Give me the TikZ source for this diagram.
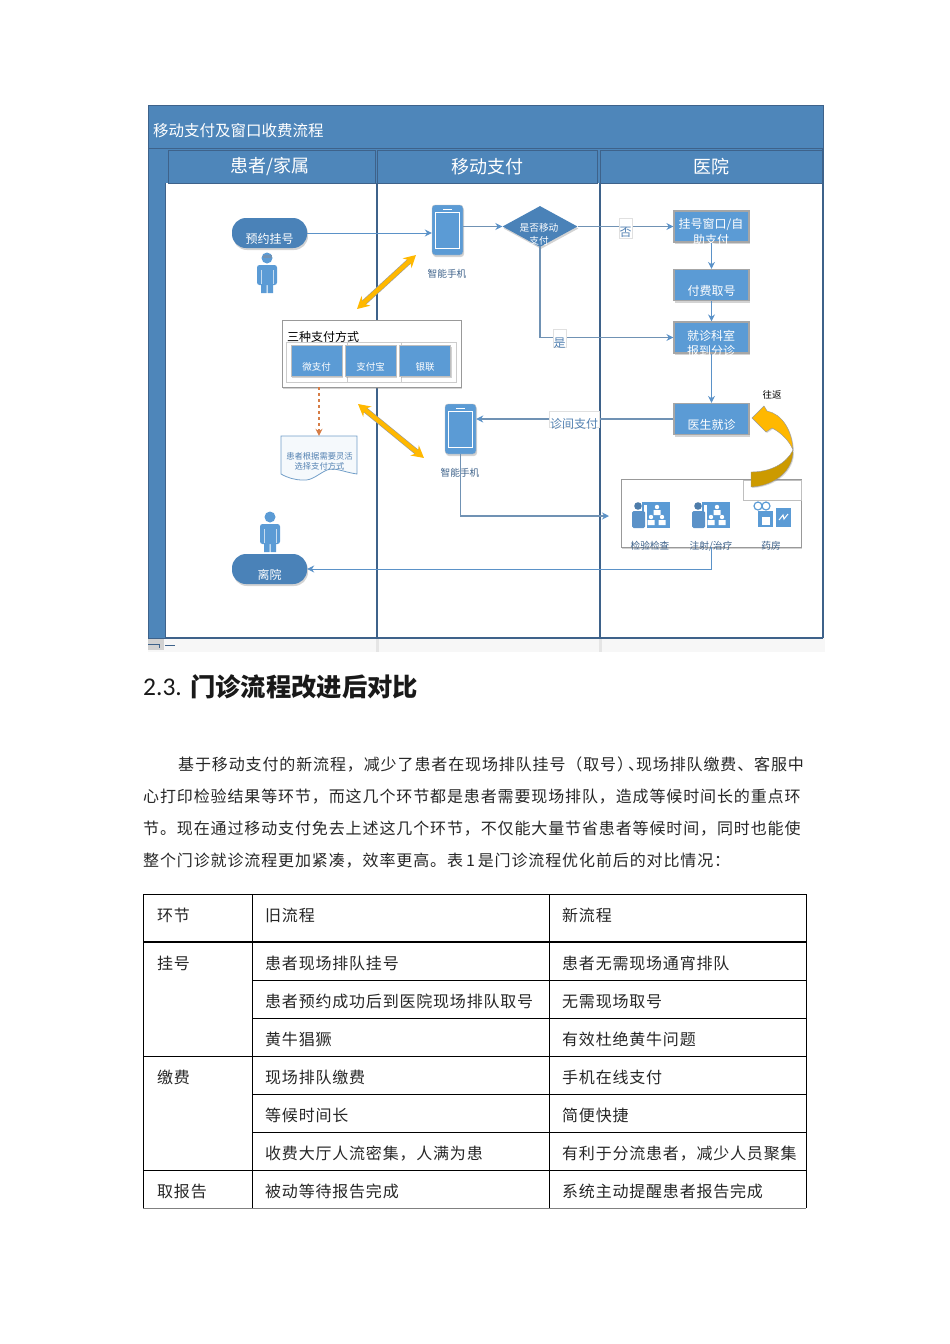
\documentclass[tikz,border=0pt]{standalone}
\usepackage{fontspec}
\setmainfont{Noto Sans CJK SC}
\newfontfamily\bodyfont[LetterSpace=5]{Noto Sans CJK SC}
\newfontfamily\parafont[LetterSpace=5.5]{Noto Sans CJK SC}
\newfontfamily\latinfont{Carlito}
\usepackage{xcolor}
\usetikzlibrary{arrows.meta,positioning,shapes.geometric,shadows}
\definecolor{bandblue}{RGB}{78,134,186}
\definecolor{bandedge}{RGB}{62,98,138}
\definecolor{boxblue}{RGB}{91,155,213}
\definecolor{pillblue}{RGB}{74,130,184}
\definecolor{linkblue}{RGB}{112,146,180}
\definecolor{tipblue}{RGB}{91,146,200}
\definecolor{labelblue}{RGB}{84,130,178}
\definecolor{goldfill}{RGB}{255,184,0}
\definecolor{golddark}{RGB}{204,154,0}
\definecolor{dashorange}{RGB}{214,125,70}
\newcommand{\fsz}[1]{\fontsize{#1}{#1}\selectfont}
\newcommand{\lowtxt}[1]{\raisebox{-10pt}[0pt][0pt]{#1}}
\tikzset{
  softshadow/.style={drop shadow={opacity=.35,shadow xshift=1pt,shadow yshift=-2pt}},
  pillbox/.style={rounded corners=14pt,fill=pillblue,minimum width=75pt,minimum height=30pt,inner sep=0pt,text=white,softshadow,font=\fsz{12}},
  stepbox/.style={draw=black!35,line width=1.2pt,fill=boxblue,minimum width=75pt,minimum height=31pt,inner sep=0pt,text=white,softshadow,align=center,font=\fsz{12}},
  paybox/.style={draw=black!25,fill=boxblue,minimum width=51pt,minimum height=31pt,inner sep=0pt,text=white,softshadow,font=\fsz{9.5}},
  phonebox/.style={rounded corners=3pt,draw=black!25,fill=boxblue,minimum width=31pt,minimum height=50pt,inner sep=0pt,softshadow},
  phonelabel/.style={text=bandedge,font=\fsz{9.7},inner sep=0pt},
  headtext/.style={text=white,font=\fsz{18},inner sep=0pt},
  lanebox/.style={draw=bandedge,fill=bandblue,minimum height=33pt,inner sep=0pt},
  linktag/.style={draw=black!12,fill=white,inner sep=0pt,text=labelblue,font=\fsz{12}},
  link/.style={draw=linkblue,line width=1.2pt,-{Stealth[length=7pt,width=7pt,color=tipblue]}},
  downlink/.style={draw=tipblue,line width=1pt,-{Stealth[length=7pt,width=7pt]}},
  goldlink/.style={draw=goldfill,line width=4.4pt,{Stealth[length=12pt,width=13pt]}-{Stealth[length=12pt,width=13pt]}},
  goldrim/.style={draw=black!40,line width=5.6pt,shorten >=8pt,shorten <=8pt},
  roomlabel/.style={text=bandedge,inner sep=0pt,font=\fsz{9.7}},
  bodyline/.style={anchor=west,inner sep=0pt,text=black!85,font=\parafont\fsz{16}},
  cellbox/.style={anchor=west,inner sep=0pt,text=black!85,font=\bodyfont\fsz{16}},
  personicon/.pic={
    \fill[boxblue] (0,-15) circle (5.5);
    \fill[boxblue,rounded corners=2.5pt] (-10,-8) rectangle (10,12);
    \fill[boxblue] (-6,10) rectangle (-.5,20) (.5,10) rectangle (6,20);
    \draw[boxblue!35,line width=.5pt] (-6,-3) -- (-6,11) (6,-3) -- (6,11);
  },
  charticon/.pic={
    \fill[boxblue] (10,0) rectangle (38,26);
    \fill[white] (12,3) rectangle (15,26);
    \fill[tipblue!85!black] (6,4) circle (3.8);
    \fill[tipblue,rounded corners=1.5pt] (0,9) rectangle (13,26);
    \fill[white] (25,5) circle (2.2) (19,15) circle (2.2) (30,15) circle (2.2);
    \fill[white] (21.5,8) rectangle (28.5,13) (15.5,18) rectangle (22.5,23) (26.5,18) rectangle (33.5,23);
  },
}
\begin{document}
\begin{tikzpicture}[x=1pt,y=-1pt]
  \useasboundingbox (0,0) rectangle (950,1344);

  % Frame of the flow chart
  \fill[black!3] (148,638) rectangle (825,652);
  \fill[black!18] (148,638) rectangle (164,650);
  \fill[black!10] (376,638) rectangle (379,652);
  \fill[black!10] (599,638) rectangle (602,652);
  \draw[bandedge] (148,644) -- (159,644) -- (159,648) (165,645) -- (175,645);
  \fill[bandblue] (148,105) rectangle (823,149);
  \draw[bandedge] (148,105) rectangle (823,148);
  \fill[bandblue] (148,148) rectangle (165,638);
  \draw[bandedge] (148,148) rectangle (165,638);
  \node[anchor=west,text=white,inner sep=0pt,font=\fsz{15.5}] (charttitle) at (153,130.5) {移动支付及窗口收费流程};

  % Lanes
  \fill[bandblue] (165,149) rectangle (823,183);
  \node[lanebox,minimum width=207pt] (lanea) at (271.5,166.5) {};
  \node[lanebox,minimum width=220pt] (laneb) at (487,166.5) {};
  \node[lanebox,minimum width=223pt] (lanec) at (711.5,166.5) {};
  \draw[bandedge,line width=1.6pt] (148,148.5) -- (823,148.5);
  \node[headtext] at (270,166.5) (lanetexta) {患者/家属};
  \node[headtext] at (487,166.5) (lanetextb) {移动支付};
  \node[headtext] at (711,166.5) (lanetextc) {医院};
  \draw[bandedge,line width=1.6pt] (377,183) -- (377,638);
  \draw[bandedge,line width=1.6pt] (600,183) -- (600,638);
  \draw[bandedge,line width=1.6pt] (823,148) -- (823,638);
  \draw[bandedge,line width=1.2pt] (165,638) -- (823,638);

  % Patient lane
  \node[pillbox] (booking) at (269.5,233) {\lowtxt{预约挂号}};
  \pic at (267,273) {personicon};
  \fill[linkblue] (262.5,254.5) rectangle (271.5,257.5);
  \node[draw=black!40,fill=white,minimum width=179pt,minimum height=67pt,inner sep=0pt,softshadow] (payways) at (371.5,353.5) {};
  \node[anchor=west,inner sep=0pt,font=\fsz{12}] (paytitle) at (287,337) {三种支付方式};
  \draw[black!20] (286,342) rectangle (456,382) (347,342) -- (347,382) (401,342) -- (401,382);
  \node[paybox] (wechat) at (316.5,360.5) {\lowtxt{微支付}};
  \node[paybox] (alipay) at (370.5,360.5) {\lowtxt{支付宝}};
  \node[paybox] (unionpay) at (425,360.5) {\lowtxt{银联}};
  \node[minimum width=76pt,minimum height=40pt,inner sep=0pt] (flexdoc) at (319,456) {};
  \draw[bandblue!80,line width=.8pt,fill=boxblue!6] (281,436) -- (357,436) -- (357,474) .. controls (343,472) and (335,467) .. (327,470) .. controls (318,474) and (312,481) .. (303,480) .. controls (295,480) and (288,478) .. (281,474) -- cycle;
  \node[text=labelblue,align=center,inner sep=0pt,font=\fsz{8.3}] (flexdoctext) at (319.5,461) {患者根据需要灵活\\[2pt]选择支付方式};
  \draw[dashorange,dashed,line width=1.2pt,-{Stealth[length=7pt,width=7pt]}] (319,387) -- (flexdoc.north);
  \pic at (270,532) {personicon};
  \node[pillbox] (discharge) at (269.5,569) {\lowtxt{离院}};

  % Payment lane
  \node[phonebox] (phonea) at (447.5,230) {};
  \draw[white] (435.5,212) rectangle (459.5,248);
  \draw[white] (443,209) -- (452,209);
  \node[phonelabel] (phonealabel) at (447,274) {智能手机};
  \node[phonebox] (phoneb) at (460.5,429) {};
  \draw[white] (448.5,411) rectangle (472.5,447);
  \draw[white] (456,408) -- (465,408);
  \node[phonelabel] (phoneblabel) at (460,473) {智能手机};
  \node[diamond,fill=pillblue,minimum width=75pt,minimum height=41pt,inner sep=0pt,aspect=1.83,softshadow] (ifmobile) at (540,226.5) {};
  \node[text=white,inner sep=0pt,font=\fsz{9.7}] (ifmobiletexta) at (539,228) {是否移动};
  \node[text=white,inner sep=0pt,font=\fsz{9.7}] (ifmobiletextb) at (539,241) {支付};

  % Hospital lane
  \node[stepbox] (window) at (711.5,226.5) {};
  \node[text=white,align=center,inner sep=0pt,font=\fsz{12}] (windowtext) at (711,232) {挂号窗口/自\\[3pt]助支付};
  \node[stepbox] (payticket) at (711.5,285) {\lowtxt{付费取号}};
  \node[stepbox] (clinic) at (711.5,337.5) {};
  \node[text=white,align=center,inner sep=0pt,font=\fsz{12}] (clinictext) at (711,343.5) {就诊科室\\[3pt]报到分诊};
  \node[stepbox] (doctor) at (711.5,419) {\lowtxt{医生就诊}};
  \node[inner sep=0pt,font=\fsz{9.5}] (roundtrip) at (772,395) {往返};

  % Rooms
  \node[draw=black!40,fill=white,minimum width=180pt,minimum height=68pt,inner sep=0pt,softshadow] (rooms) at (711,513) {};
  \draw[black!25,fill=white] (743,480) rectangle (801,500);
  \pic at (632,502) {charticon};
  \pic at (692,502) {charticon};
  \fill[boxblue] (758,511) rectangle (773,527);
  \fill[boxblue] (776,508) rectangle (791,527);
  \draw[boxblue,line width=1.2pt] (758,506) circle (4) (766,506) circle (4);
  \fill[white] (762,517) rectangle (770,525);
  \draw[white,line width=1pt] (779,520) -- (783,515) -- (784,519) -- (788,514);
  \node[roomlabel] (labroom) at (650,546) {检验检查};
  \node[roomlabel] (cureroom) at (711,546) {注射/治疗};
  \node[roomlabel] (drugroom) at (771,546) {药房};

  % Gold arrows
  \coordinate (goldaa) at (416,255);
  \coordinate (goldab) at (357,309);
  \coordinate (goldba) at (358,404);
  \coordinate (goldbb) at (424,458);
  \draw[goldrim] (goldaa) -- (goldab);
  \draw[goldrim] (goldba) -- (goldbb);
  \draw[goldlink] (goldaa) -- (goldab);
  \draw[goldlink] (goldba) -- (goldbb);
  \fill[golddark,draw=black!40,line width=.4pt,drop shadow={opacity=.3,shadow xshift=1pt,shadow yshift=-1pt}] (793,450) .. controls (794,470) and (775,486) .. (751,487) -- (751,472) .. controls (770,472) and (786,464) .. (793,450) -- cycle;
  \fill[goldfill,draw=black!40,line width=.4pt,drop shadow={opacity=.3,shadow xshift=1pt,shadow yshift=-1pt}] (752,418) -- (764,406) -- (767,411) .. controls (782,414) and (792,430) .. (793,450) .. controls (789,440) and (780,432) .. (772,428) -- (766,432) -- cycle;

  % Connections
  \draw[downlink] (booking.east) -- (booking.east -| phonea.west);
  \draw[link] (phonea.east |- ifmobile.west) -- (ifmobile.west);
  \draw[link] (ifmobile.east) -- (ifmobile.east -| window.west);
  \draw[link] (ifmobile.south) |- (clinic.west);
  \draw[downlink] (window.south) -- (payticket.north);
  \draw[downlink] (payticket.south) -- (clinic.north);
  \draw[downlink] (clinic.south) -- (doctor.north);
  \draw[link] (doctor.west) -- (doctor.west -| phoneb.east);
  \coordinate (roomsin) at (609,516);
  \draw[link] (phoneb.south) |- (roomsin);
  \draw[downlink] (rooms.south -| cureroom.south) |- (discharge.east);

  \node[linktag,minimum width=13pt,minimum height=20pt] (notag) at (625.5,228) {\raisebox{-8pt}[0pt][0pt]{否}};
  \node[linktag,minimum width=13pt,minimum height=18pt] (yestag) at (559.5,338) {\raisebox{-9pt}[0pt][0pt]{是}};
  \node[linktag,minimum width=50pt,minimum height=16pt] (roomtag) at (574,419) {\raisebox{-9pt}[0pt][0pt]{诊间支付}};

  % Section heading
  \node[anchor=west,inner sep=0pt,text=black!90,font=\latinfont\fsz{25.5}] (secnum) at (143,687) {2.3.};
  \node[anchor=west,inner sep=0pt,text=black!90,font=\bfseries\fsz{25.3}] (sectitle) at (190,687) {门诊流程改进后对比};

  % Paragraph
  \node[bodyline] (parta) at (178,764.6) {基于移动支付的新流程，减少了患者在现场排队挂号（取号）\kern-5pt、\kern-8pt 现场排队缴费、客服中};
  \node[bodyline] (partb) at (143,797) {心打印检验结果等环节，而这几个环节都是患者需要现场排队，造成等候时间长的重点环};
  \node[bodyline] (partc) at (143,829) {节。现在通过移动支付免去上述这几个环节，不仅能大量节省患者等候时间，同时也能使};
  \node[bodyline] (partd) at (143,861) {整个门诊就诊流程更加紧凑，效率更高。表 \kern-1.5pt 1 \kern-1.5pt 是门诊流程优化前后的对比情况：};

  % Table
  \draw[black,line width=.8pt] (143,894) -- (806,894);
  \draw[black,line width=1.4pt] (143,942) -- (806,942);
  \draw[black,line width=.7pt] (252,980) -- (806,980);
  \draw[black,line width=.7pt] (252,1018) -- (806,1018);
  \draw[black,line width=.7pt] (143,1056) -- (806,1056);
  \draw[black,line width=.7pt] (252,1094.5) -- (806,1094.5);
  \draw[black,line width=.7pt] (252,1132.5) -- (806,1132.5);
  \draw[black,line width=.7pt] (143,1170.5) -- (806,1170.5);
  \draw[black!50,line width=.7pt] (143,1208.5) -- (806,1208.5);
  \draw[black,line width=.7pt] (143,894) -- (143,1208);
  \draw[black,line width=.7pt] (252,894) -- (252,1208);
  \draw[black,line width=.7pt] (549,894) -- (549,1208);
  \draw[black,line width=.7pt] (806,894) -- (806,1208);

  \node[cellbox] (stephead) at (157,915) {环节};
  \node[cellbox] (oldhead) at (265,915) {旧流程};
  \node[cellbox] (newhead) at (562,915) {新流程};
  \node[cellbox] (stepa) at (157,963) {挂号};
  \node[cellbox] (stepb) at (157,1077) {缴费};
  \node[cellbox] (stepc) at (157,1191) {取报告};
  \node[cellbox] (olda) at (265,963) {患者现场排队挂号};
  \node[cellbox] (oldb) at (265,1001.5) {患者预约成功后到医院现场排队取号};
  \node[cellbox] (oldc) at (265,1039.5) {黄牛猖獗};
  \node[cellbox] (oldd) at (265,1077) {现场排队缴费};
  \node[cellbox] (olde) at (265,1115) {等候时间长};
  \node[cellbox] (oldf) at (265,1153.5) {收费大厅人流密集，人满为患};
  \node[cellbox] (oldg) at (265,1191) {被动等待报告完成};
  \node[cellbox] (newa) at (562,963) {患者无需现场通宵排队};
  \node[cellbox] (newb) at (562,1001.5) {无需现场取号};
  \node[cellbox] (newc) at (562,1039.5) {有效杜绝黄牛问题};
  \node[cellbox] (newd) at (562,1077) {手机在线支付};
  \node[cellbox] (newe) at (562,1115) {简便快捷};
  \node[cellbox] (newf) at (562,1153.5) {有利于分流患者，减少人员聚集};
  \node[cellbox] (newg) at (562,1191) {系统主动提醒患者报告完成};
\end{tikzpicture}
\end{document}
